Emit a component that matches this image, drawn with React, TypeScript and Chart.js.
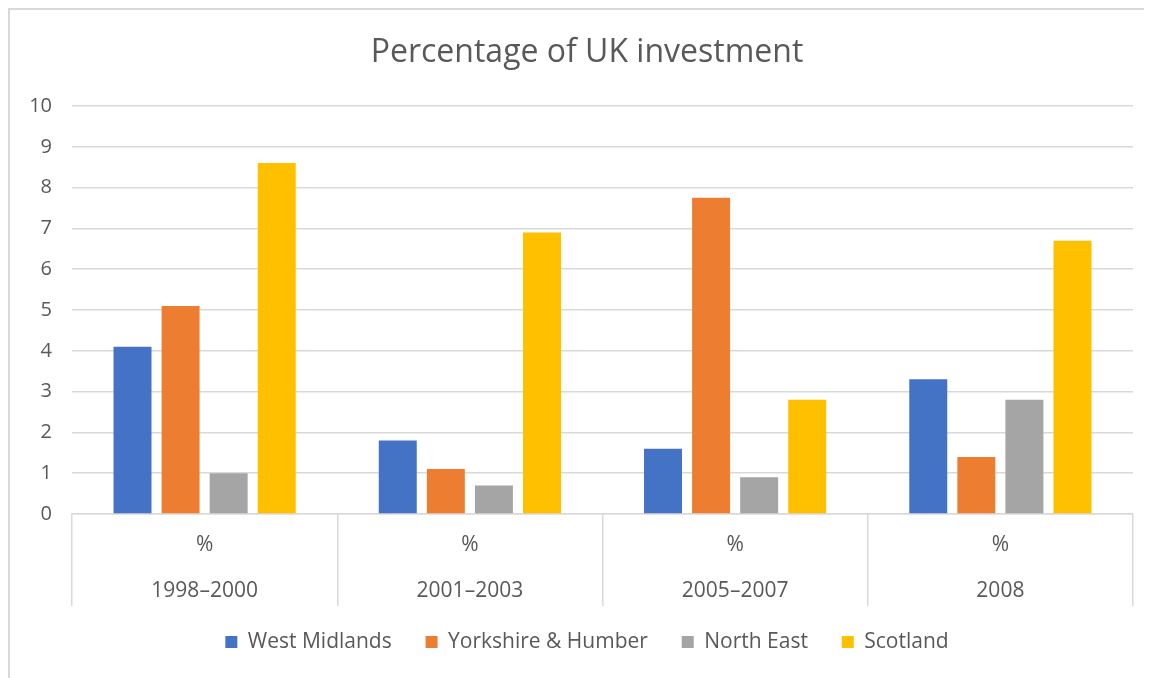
import React, { useEffect, useRef } from "react";
import { Chart, registerables } from "chart.js";

Chart.register(...registerables);

const categories: string[][] = [
  ["%", "1998–2000"],
  ["%", "2001–2003"],
  ["%", "2005–2007"],
  ["%", "2008"],
];
const westMidlands = [4.1, 1.8, 1.6, 3.3];
const yorkshireHumber = [5.1, 1.1, 7.75, 1.4];
const northEast = [1.0, 0.7, 0.9, 2.8];
const scotland = [8.6, 6.9, 2.8, 6.7];
const seriesNames = ["West Midlands", "Yorkshire & Humber", "North East", "Scotland"];
const seriesColors = ["#4472C4", "#ED7D31", "#A5A5A5", "#FFC000"];
const yTicks = [0, 1, 2, 3, 4, 5, 6, 7, 8, 9, 10];
const titleText = "Percentage of UK investment";

const TEXT = "#595959";
const GRID = "#d9d9d9";
const FONT = "'Open Sans', 'Noto Sans', sans-serif";

export default function App() {
  const ref = useRef<HTMLCanvasElement | null>(null);
  useEffect(() => {
    if (!ref.current) return;
    const values = [westMidlands, yorkshireHumber, northEast, scotland];
    const chart = new Chart(ref.current, {
      type: "bar",
      data: {
        labels: categories,
        datasets: values.map((v, i) => ({
          label: seriesNames[i],
          data: v,
          backgroundColor: seriesColors[i],
          borderWidth: 0,
          categoryPercentage: 0.725,
          barPercentage: 0.79,
        })),
      },
      options: {
        animation: false,
        responsive: true,
        maintainAspectRatio: false,
        layout: { padding: { left: 31, right: 35, top: 0, bottom: 15.5 } },
        plugins: {
          tooltip: { enabled: false },
          title: {
            display: true,
            text: titleText,
            color: TEXT,
            font: { family: FONT, size: 32, weight: "normal", lineHeight: 1.2 },
            padding: { top: 23.8, bottom: 33.8 },
          },
          legend: {
            position: "bottom",
            labels: {
              color: TEXT,
              font: { family: FONT, size: 21 },
              boxWidth: 12,
              boxHeight: 12,
              padding: 17.5,
              generateLabels: (c: any) => {
                const base = Chart.defaults.plugins.legend.labels.generateLabels(c);
                return base.map((l: any, i: number) => ({
                  ...l,
                  text: i < base.length - 1 ? l.text + "\u00a0\u00a0\u00a0" : l.text,
                }));
              },
            },
          },
        },
        scales: {
          x: {
            offset: true,
            grid: {
              offset: true,
              drawOnChartArea: false,
              drawTicks: true,
              tickLength: 92,
              color: GRID,
              lineWidth: 1.5,
            },
            border: { display: true, color: GRID, width: 1.5 },
            ticks: {
              color: TEXT,
              font: { family: FONT, size: 21, lineHeight: "46px" },
              padding: -84,
              maxRotation: 0,
              autoSkip: false,
            },
            afterFit: (axis: any) => {
              axis.height = 100;
            },
          },
          y: {
            min: 0,
            max: 10,
            afterBuildTicks: (axis: any) => {
              axis.ticks = yTicks.map((v) => ({ value: v }));
            },
            grid: { color: GRID, lineWidth: 1.5, drawTicks: false },
            border: { display: false },
            ticks: {
              color: TEXT,
              font: { family: FONT, size: 20 },
              padding: 20,
            },
            afterFit: (axis: any) => {
              axis.width = 31;
              axis._computeLabelArea = () => undefined;
            },
          },
        },
      },
    });
    return () => chart.destroy();
  }, []);

  return (
    <div style={{ width: 1144, height: 670, overflow: "hidden" }}>
      <div
        style={{
          width: 1160,
          height: 680,
          borderTop: `2px solid ${GRID}`,
          borderLeft: `2px solid ${GRID}`,
        }}
      >
        <div style={{ position: "relative", width: 1158, height: 668 }}>
          <canvas ref={ref} />
        </div>
      </div>
    </div>
  );
}
